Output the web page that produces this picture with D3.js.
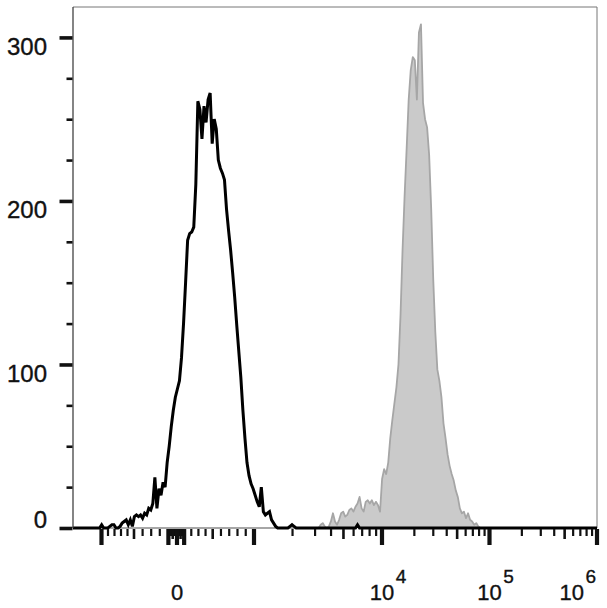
<!DOCTYPE html>
<html><head><meta charset="utf-8">
<script src="https://cdn.jsdelivr.net/npm/d3@7"></script>
<style>html,body{margin:0;padding:0;background:#fff}svg{display:block}</style>
</head><body>
<script>
// ---------- data ----------
// histogram channels (display space 0..256)
const channelDomain = [0, 256];
const unstainedStart = 13;   // first channel of black series
const unstainedCounts = [0,2,0,0,0,1,2,2,0,0,1,3,4,5,2,5,1,7,8,7,8,6,9,8,12,11,15,31,12,24,20,28,25,40,50,62,72,80,85,90,104,125,150,176,180,181,184,210,261,256,238,258,248,262,266,235,250,244,225,220,217,213,195,182,170,156,141,124,108,92,72,55,40,32,27,24,20,16,13,25,10,8,9,10,5,3,1,0,0,0,0,0,0,1,2,1,0,0,0,0,0,0,0,0,0,0,0,0,0,0,0,0,0,0,0,0,0,0,0,0,0,0,0,0,0,0,2,0];
const stainedStart = 119;    // first channel of grey series
const stainedCounts = [0,0,2,3,1,0,1,4,9,4,2,5,9,10,7,8,11,12,10,13,15,19,12,10,16,17,15,17,14,16,14,10,30,36,33,40,55,66,76,86,100,130,170,203,232,262,280,288,286,262,303,308,260,250,245,228,195,152,120,97,90,80,64,55,45,38,33,29,23,19,12,9,10,6,9,5,4,2,3,1,0,0];

const yMax = 318.6;
const yMajorValues = [0, 100, 200, 300];
const yMinorValues = [25, 50, 75, 125, 150, 175, 225, 250, 275];
const yLabels = ["0", "100", "200", "300"];

const xMajorValues = [-1000, -100, 0, 100, 1000, 1e4, 1e5, 1e6];
const xMediumValues = [-500, -50, 50, 500, 5000, 5e4, 5e5];
const xLabelValues = [0, 1e4, 1e5, 1e6];
const xLabelBase = ["0", "10", "10", "10"];
const xLabelExp = ["", "4", "5", "6"];

// biexponential display: transformed value -> channel
const biexKnotsT = [-1.438, -1, -0.5, 0, 0.5, 1, 2, 4];
const biexKnotsCh = [0, 13.92, 29.8, 50.81, 68.25, 88.43, 150.96, 256];

// ---------- layout ----------
const W = 607, H = 608;
const m = {left: 73, right: 597, top: 7, bottom: 528};
const FONT = "Liberation Sans, Arial, sans-serif";

const svg = d3.select("body").append("svg").attr("width", W).attr("height", H);

const x = d3.scaleLinear().domain(channelDomain).range([m.left, m.right]);
const y = d3.scaleLinear().domain([0, yMax]).range([m.bottom, m.top]);
const biex = d3.scaleLinear().domain(biexKnotsT).range(biexKnotsCh);
function T(v) { const a = Math.abs(v); const t = a <= 1000 ? a / 1000 : 1 + Math.log10(a / 1000); return v < 0 ? -t : t; }
function makeXV() {
  const s = v => x(biex(T(v)));
  s.copy = makeXV; s.range = () => x.range(); s.domain = () => [-1400, 1e6];
  return s;
}
const xv = makeXV();

// minor ticks: 2..9 x each decade (negative side down to -10)
const xMinorValues = [];
d3.range(2, 10).forEach(k => { if (k !== 5) xMinorValues.push(-k * 100); });
d3.range(1, 10).forEach(k => { if (k !== 5) { xMinorValues.push(-k * 10); xMinorValues.push(k * 10); } });
[100, 1000, 1e4, 1e5].forEach(d => d3.range(2, 10).forEach(k => { if (k !== 5) xMinorValues.push(k * d); }));

// frame
svg.append("path")
  .attr("d", `M${m.left},${m.top}H${m.right}V${m.bottom}`)
  .attr("fill", "none").attr("stroke", "#777").attr("stroke-width", 1);

// series
function series(start, counts) {
  const pts = counts.map((c, i) => [start + i, c]);
  return [[channelDomain[0], 0], ...pts, [channelDomain[1], 0]];
}
const line = d3.line().x(d => x(d[0])).y(d => y(d[1]));
const area = d3.area().x(d => x(d[0])).y0(y(0)).y1(d => y(d[1]));

const stained = series(stainedStart, stainedCounts);
svg.append("path").attr("d", area(stained)).attr("fill", "#cacaca");
svg.append("path").attr("d", line(stained)).attr("fill", "none")
  .attr("stroke", "#a6a6a6").attr("stroke-width", 1.8).attr("stroke-linejoin", "round");

const unstained = series(unstainedStart, unstainedCounts);
svg.append("path").attr("d", line(unstained)).attr("fill", "none")
  .attr("stroke", "#000").attr("stroke-width", 3).attr("stroke-linejoin", "miter").attr("stroke-miterlimit", 3);

// y axis line
svg.append("line").attr("x1", m.left).attr("x2", m.left).attr("y1", m.top).attr("y2", m.bottom)
  .attr("stroke", "#333").attr("stroke-width", 1.2);

// y ticks
function yAxis(values, size, sw) {
  const g = svg.append("g").attr("transform", `translate(${m.left - 0.5},0)`)
    .call(d3.axisLeft(y).tickValues(values).tickSize(size).tickFormat(""));
  g.select(".domain").remove();
  g.selectAll("line").attr("stroke", "#111").attr("stroke-width", sw);
}
yAxis(yMinorValues, 6, 2.6);
yAxis(yMajorValues, 13, 3.6);

svg.append("g").selectAll("text").data(yMajorValues).join("text")
  .attr("x", 47).attr("y", (d, i) => i === 0 ? y(d) : y(d) + 17.5)
  .attr("text-anchor", "end")
  .attr("font-family", FONT).attr("font-size", 24)
  .attr("fill", "#111").attr("stroke", "#111").attr("stroke-width", 0.35)
  .text((d, i) => yLabels[i]);

// x ticks
function xAxis(values, size, sw) {
  const g = svg.append("g").attr("transform", `translate(-0.5,${m.bottom + 1})`)
    .call(d3.axisBottom(xv).tickValues(values).tickSize(size).tickFormat(""));
  g.select(".domain").remove();
  g.selectAll("line").attr("stroke", "#111").attr("stroke-width", sw);
}
xAxis(xMinorValues, 7, 2.2);
xAxis(xMediumValues, 10, 2.6);
xAxis(xMajorValues, 16, 4.2);

// x labels
const labG = svg.append("g").attr("font-family", FONT).attr("fill", "#111")
  .attr("stroke", "#111").attr("stroke-width", 0.35);
xLabelValues.forEach((v, i) => {
  const g = labG.append("g");
  const base = g.append("text").attr("x", 0).attr("y", 600).attr("font-size", 22).text(xLabelBase[i]);
  const bw = base.node().getComputedTextLength();
  if (xLabelExp[i]) {
    g.append("text").attr("x", bw + 1.5).attr("y", 583).attr("font-size", 19).text(xLabelExp[i]);
  }
  let tx = xv(v) - bw / 2;
  const bb = g.node().getBBox();
  const limit = 596;
  if (tx + bb.x + bb.width > limit) tx = limit - (bb.x + bb.width);
  g.attr("transform", `translate(${tx},0)`);
});
</script>
</body></html>
